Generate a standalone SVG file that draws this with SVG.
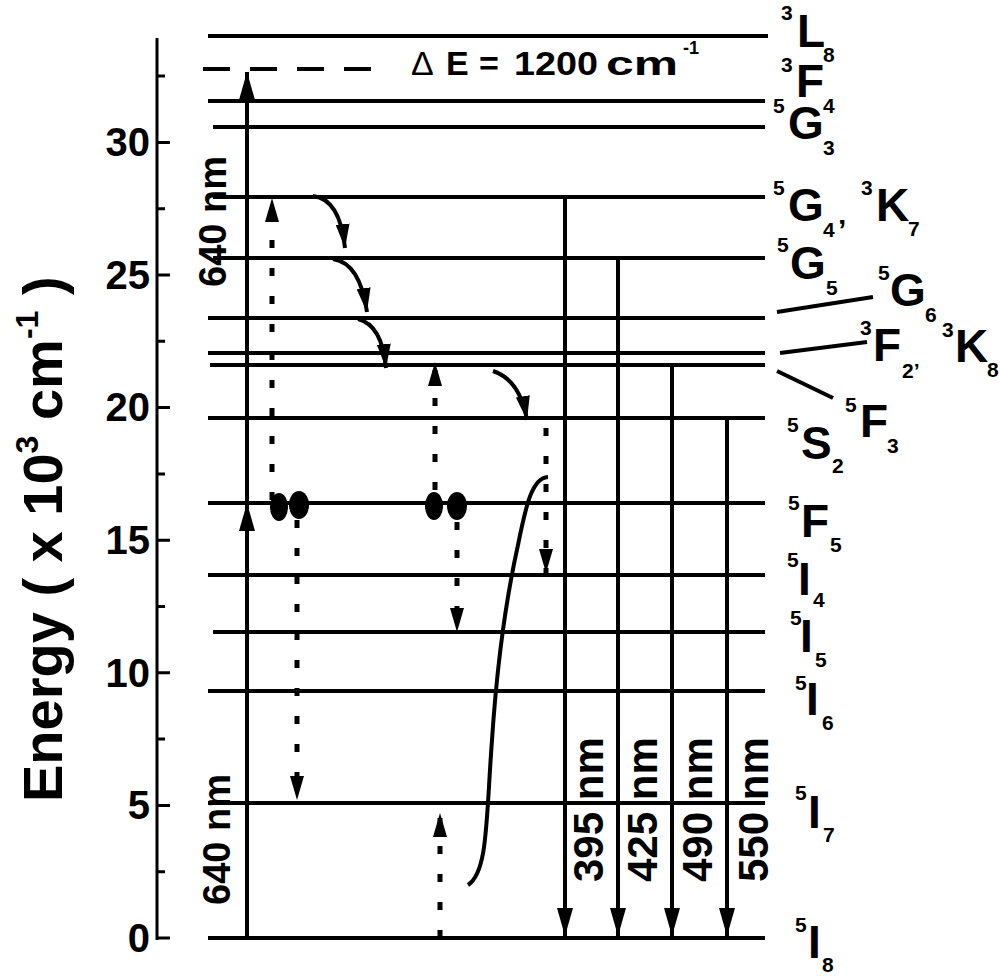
<svg xmlns="http://www.w3.org/2000/svg" width="1000" height="976" viewBox="0 0 1000 976">
<defs>
<style>
text{font-family:"Liberation Sans",Arial,sans-serif;font-weight:bold;fill:#000}
.big{font-size:46px}
.sm{font-size:21px}
.tk{font-size:40px;text-anchor:end}
.nm{font-size:42px}
.lv{stroke:#000;stroke-width:4;fill:none}
.ax{stroke:#000;stroke-width:3;fill:none}
.ar{stroke:#000;stroke-width:4;fill:none;marker-end:url(#ah)}
.dt{stroke:#000;stroke-width:5;fill:none;stroke-dasharray:8 20;marker-end:url(#ahs)}
.cv{stroke:#000;stroke-width:4;fill:none;marker-end:url(#ahs)}
</style>
<marker id="ah" viewBox="0 0 28 16" refX="28" refY="8" markerWidth="28" markerHeight="16" markerUnits="userSpaceOnUse" orient="auto"><path d="M0,0 L28,8 L0,16 z" fill="#000"/></marker>
<marker id="ahs" viewBox="0 0 24 14" refX="24" refY="7" markerWidth="24" markerHeight="14" markerUnits="userSpaceOnUse" orient="auto"><path d="M0,0 L24,7 L0,14 z" fill="#000"/></marker>
</defs>
<rect width="1000" height="976" fill="#fff"/>

<g id="axis">
<line class="ax" x1="157" y1="38" x2="157" y2="940"/>
<path class="ax" d="M157,938H170M157,805.4H170M157,672.8H170M157,540.2H170M157,407.6H170M157,275H170M157,142.4H170M157,871.7H165M157,739.1H165M157,606.5H165M157,473.9H165M157,341.3H165M157,208.7H165M157,76.1H165"/>
<text class="tk" x="150" y="952">0</text>
<text class="tk" x="150" y="819">5</text>
<text class="tk" x="150" y="687">10</text>
<text class="tk" x="150" y="554">15</text>
<text class="tk" x="150" y="421">20</text>
<text class="tk" x="150" y="289">25</text>
<text class="tk" x="150" y="156">30</text>
<text transform="translate(62,802) rotate(-90)" style="font-size:56px">Energy ( x 10<tspan style="font-size:32px" dy="-24">3</tspan><tspan dy="24"> cm</tspan><tspan style="font-size:32px" dy="-24">-1</tspan><tspan dy="24"> )</tspan></text>
</g>

<g id="level-3L8"><line class="lv" x1="208" y1="36" x2="768" y2="36"/>
<text><tspan class="sm" x="781" y="20">3</tspan><tspan class="big" x="797" y="47">L</tspan><tspan class="sm" x="823" y="62">8</tspan></text></g>

<g id="level-dE"><line class="lv" x1="203" y1="69" x2="372" y2="69" stroke-dasharray="27 20"/>
<text style="font-size:34px"><tspan style="font-weight:normal" x="411" y="75">Δ</tspan><tspan x="446" y="75">E</tspan><tspan x="479" y="75">=</tspan><tspan x="514" y="75" textLength="84" lengthAdjust="spacingAndGlyphs">1200</tspan><tspan x="606" y="75" textLength="72" lengthAdjust="spacingAndGlyphs">cm</tspan><tspan x="683" y="54" style="font-size:18px">-1</tspan></text></g>

<g id="level-3F4"><line class="lv" x1="208" y1="101" x2="765" y2="101"/>
<text><tspan class="sm" x="781" y="72">3</tspan><tspan class="big" x="796" y="97">F</tspan><tspan class="sm" x="823" y="113">4</tspan></text></g>

<g id="level-5G3"><line class="lv" x1="213" y1="127" x2="765" y2="127"/>
<text><tspan class="sm" x="773" y="113">5</tspan><tspan class="big" x="788" y="139">G</tspan><tspan class="sm" x="823" y="155">3</tspan></text></g>

<g id="level-5G4-3K7"><line class="lv" x1="213" y1="197" x2="765" y2="197"/>
<text><tspan class="sm" x="773" y="195">5</tspan><tspan class="big" x="788" y="221">G</tspan><tspan class="sm" x="823" y="237">4</tspan><tspan x="838" y="240" style="font-size:30px">’</tspan><tspan class="sm" x="861" y="195">3</tspan><tspan class="big" x="876" y="221">K</tspan><tspan class="sm" x="908" y="236">7</tspan></text></g>

<g id="level-5G5"><line class="lv" x1="213" y1="258" x2="765" y2="258"/>
<text><tspan class="sm" x="777" y="252">5</tspan><tspan class="big" x="790" y="279">G</tspan><tspan class="sm" x="826" y="295">5</tspan></text></g>

<g id="level-5G6-3K8"><line class="lv" x1="208" y1="318" x2="765" y2="318"/>
<line class="lv" x1="777" y1="312" x2="873" y2="297"/>
<text><tspan class="sm" x="878" y="280">5</tspan><tspan class="big" x="890" y="306">G</tspan><tspan class="sm" x="925" y="322">6</tspan><tspan class="sm" x="942" y="337">3</tspan><tspan class="big" x="955" y="362">K</tspan><tspan class="sm" x="987" y="377">8</tspan></text></g>

<g id="level-3F2"><line class="lv" x1="208" y1="353" x2="765" y2="353"/>
<line class="lv" x1="780" y1="353" x2="867" y2="342"/>
<text><tspan class="sm" x="860" y="335">3</tspan><tspan class="big" x="873" y="361">F</tspan><tspan class="sm" x="902" y="378">2’</tspan></text></g>

<g id="level-5F3"><line class="lv" x1="210" y1="365" x2="765" y2="365"/>
<line class="lv" x1="777" y1="371" x2="833" y2="398"/>
<text><tspan class="sm" x="845" y="412">5</tspan><tspan class="big" x="860" y="437">F</tspan><tspan class="sm" x="887" y="453">3</tspan></text></g>

<g id="level-5S2"><line class="lv" x1="208" y1="418" x2="765" y2="418"/>
<text><tspan class="sm" x="787" y="432">5</tspan><tspan class="big" x="801" y="459">S</tspan><tspan class="sm" x="832" y="473">2</tspan></text></g>

<g id="level-5F5"><line class="lv" x1="208" y1="503" x2="765" y2="503"/>
<text><tspan class="sm" x="788" y="510">5</tspan><tspan class="big" x="801" y="537">F</tspan><tspan class="sm" x="830" y="552">5</tspan></text></g>

<g id="level-5I4"><line class="lv" x1="208" y1="575" x2="765" y2="575"/>
<text><tspan class="sm" x="787" y="567">5</tspan><tspan class="big" x="798" y="595">I</tspan><tspan class="sm" x="813" y="607">4</tspan></text></g>

<g id="level-5I5"><line class="lv" x1="213" y1="632" x2="765" y2="632"/>
<text><tspan class="sm" x="790" y="625">5</tspan><tspan class="big" x="800" y="652">I</tspan><tspan class="sm" x="815" y="667">5</tspan></text></g>

<g id="level-5I6"><line class="lv" x1="208" y1="691" x2="765" y2="691"/>
<text><tspan class="sm" x="795" y="690">5</tspan><tspan class="big" x="806" y="715">I</tspan><tspan class="sm" x="822" y="730">6</tspan></text></g>

<g id="level-5I7"><line class="lv" x1="208" y1="803" x2="765" y2="803"/>
<text><tspan class="sm" x="795" y="800">5</tspan><tspan class="big" x="808" y="828">I</tspan><tspan class="sm" x="823" y="842">7</tspan></text></g>

<g id="level-5I8"><line class="lv" x1="208" y1="938" x2="765" y2="938"/>
<text><tspan class="sm" x="795" y="932">5</tspan><tspan class="big" x="808" y="958">I</tspan><tspan class="sm" x="822" y="972">8</tspan></text></g>

<g id="ions">
<ellipse cx="279" cy="507" rx="9" ry="14"/>
<ellipse cx="299" cy="505" rx="10" ry="14"/>
<ellipse cx="434" cy="506" rx="9" ry="14"/>
<ellipse cx="457" cy="506" rx="10" ry="14"/>
</g>

<g id="connectors">
<line class="ar" x1="247" y1="938" x2="247" y2="503"/>
<line class="ar" x1="247" y1="503" x2="247" y2="72"/>
<text class="nm" transform="translate(230,905) rotate(-90)" style="font-size:38px">640 nm</text>
<text class="nm" transform="translate(226,287) rotate(-90)" style="font-size:38px">640 nm</text>

<line class="dt" x1="272" y1="500" x2="272" y2="198"/>
<line class="dt" x1="297" y1="520" x2="297" y2="800"/>
<line class="dt" x1="435" y1="490" x2="435" y2="362"/>
<line class="dt" x1="457" y1="522" x2="457" y2="632"/>
<line class="dt" x1="546" y1="428" x2="546" y2="573"/>
<line class="dt" x1="440" y1="938" x2="440" y2="813"/>

<path class="cv" d="M313,196 Q340,199 345,248"/>
<path class="cv" d="M333,259 Q360,263 367,312"/>
<path class="cv" d="M358,319 Q382,325 386,368"/>
<path class="cv" d="M493,371 Q520,380 527,420"/>

<path class="lv" d="M468,885 C488,872 486,820 492,740 C498,650 508,590 518,545 C526,505 532,478 548,477"/>

<line class="ar" x1="565" y1="197" x2="565" y2="936"/>
<line class="ar" x1="618" y1="258" x2="618" y2="936"/>
<line class="ar" x1="672" y1="365" x2="672" y2="936"/>
<line class="ar" x1="727" y1="418" x2="727" y2="936"/>
<text class="nm" transform="translate(603,882) rotate(-90)">395 nm</text>
<text class="nm" transform="translate(657,882) rotate(-90)">425 nm</text>
<text class="nm" transform="translate(712,882) rotate(-90)">490 nm</text>
<text class="nm" transform="translate(768,882) rotate(-90)">550 nm</text>
</g>
</svg>
